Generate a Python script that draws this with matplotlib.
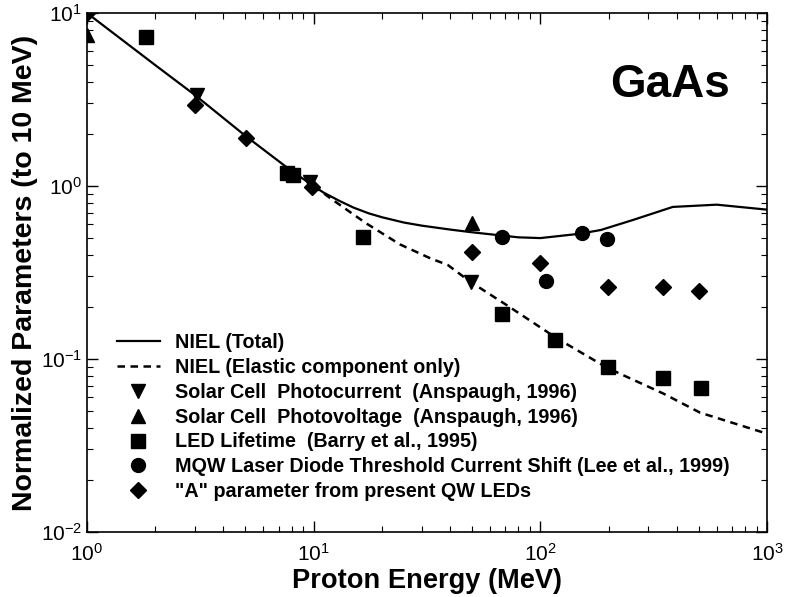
import matplotlib
matplotlib.use("Agg")
import matplotlib.pyplot as plt
import numpy as np

plt.rcParams['font.family'] = ['Liberation Sans', 'DejaVu Sans']
plt.rcParams['mathtext.default'] = 'regular'

# NIEL curves
niel_total_x = [1, 2, 3, 5, 8, 10, 11, 13, 15, 17.5, 20, 25, 30, 40, 50, 80, 100, 150, 185, 256, 384, 600, 1000]
niel_total_y = [10, 5.0, 3.35, 1.95, 1.22, 1.0, 0.92, 0.82, 0.75, 0.695, 0.66, 0.615, 0.59, 0.56, 0.54, 0.505, 0.5, 0.53, 0.557, 0.636, 0.757, 0.78, 0.73]
niel_elastic_x = [10, 12, 17, 24, 33, 39, 49, 71, 118, 197, 240, 350, 506, 1000]
niel_elastic_y = [1.0, 0.84, 0.61, 0.46, 0.38, 0.35, 0.28, 0.205, 0.132, 0.089, 0.079, 0.063, 0.049, 0.037]

# Data points
photocurrent_x = [1, 3.06, 9.6, 49.4]
photocurrent_y = [10, 3.36, 1.05, 0.279]
photovoltage_x = [1, 50]
photovoltage_y = [7.5, 0.61]
led_x = [1.82, 7.62, 8.1, 16.5, 67.7, 116, 199, 348, 511]
led_y = [7.26, 1.19, 1.16, 0.507, 0.182, 0.129, 0.090, 0.0776, 0.068]
mqw_x = [68, 106, 153, 197]
mqw_y = [0.504, 0.282, 0.535, 0.494]
aparam_x = [1, 3.0, 5.03, 9.8, 49.9, 99.6, 199, 348, 500]
aparam_y = [10, 2.94, 1.89, 0.99, 0.416, 0.359, 0.26, 0.26, 0.247]

labels = [
    'NIEL (Total)',
    'NIEL (Elastic component only)',
    'Solar Cell  Photocurrent  (Anspaugh, 1996)',
    'Solar Cell  Photovoltage  (Anspaugh, 1996)',
    'LED Lifetime  (Barry et al., 1995)',
    'MQW Laser Diode Threshold Current Shift (Lee et al., 1999)',
    '"A" parameter from present QW LEDs',
]

fig = plt.figure(figsize=(7.87, 5.97), dpi=100)
ax = fig.add_axes([0.1105, 0.1089, 0.8641, 0.8693])

ax.plot(niel_total_x, niel_total_y, 'k-', lw=1.6, label=labels[0])
ax.plot(niel_elastic_x, niel_elastic_y, 'k--', lw=1.8, dashes=(3, 2.2), label=labels[1])
ms = 9.5
ax.plot(photocurrent_x, photocurrent_y, 'kv', ms=ms, ls='none', label=labels[2])
ax.plot(photovoltage_x, photovoltage_y, 'k^', ms=ms, ls='none', label=labels[3])
ax.plot(led_x, led_y, 'ks', ms=ms, ls='none', label=labels[4])
ax.plot(mqw_x, mqw_y, 'ko', ms=ms + 0.5, ls='none', label=labels[5])
ax.plot(aparam_x, aparam_y, 'kD', ms=ms - 1, ls='none', label=labels[6])

ax.set_xscale('log')
ax.set_yscale('log')
ax.set_xlim(1, 1000)
ax.set_ylim(0.01, 10)

ax.tick_params(which='both', direction='in', top=True, right=True, labelsize=15)
ax.tick_params(which='major', length=8, width=1)
ax.tick_params(which='minor', length=4, width=0.8)
ax.tick_params(axis='x', pad=8)
for s in ax.spines.values():
    s.set_linewidth(1.2)

ax.set_xlabel('Proton Energy (MeV)', fontsize=19.6, fontweight='bold', labelpad=2)
ax.set_ylabel('Normalized Parameters (to 10 MeV)', fontsize=20.5, fontweight='bold', labelpad=2)

ax.text(0.857, 0.862, 'GaAs', transform=ax.transAxes, fontsize=33, fontweight='bold',
        ha='center', va='center')

leg = ax.legend(loc='upper left', bbox_to_anchor=(0.044, 0.383), frameon=False,
                prop={'size': 14.2, 'weight': 'bold'}, handlelength=2.18, handletextpad=0.76,
                labelspacing=0.295, borderpad=0, borderaxespad=0, numpoints=1)

fig.savefig('out.png', dpi=100)
